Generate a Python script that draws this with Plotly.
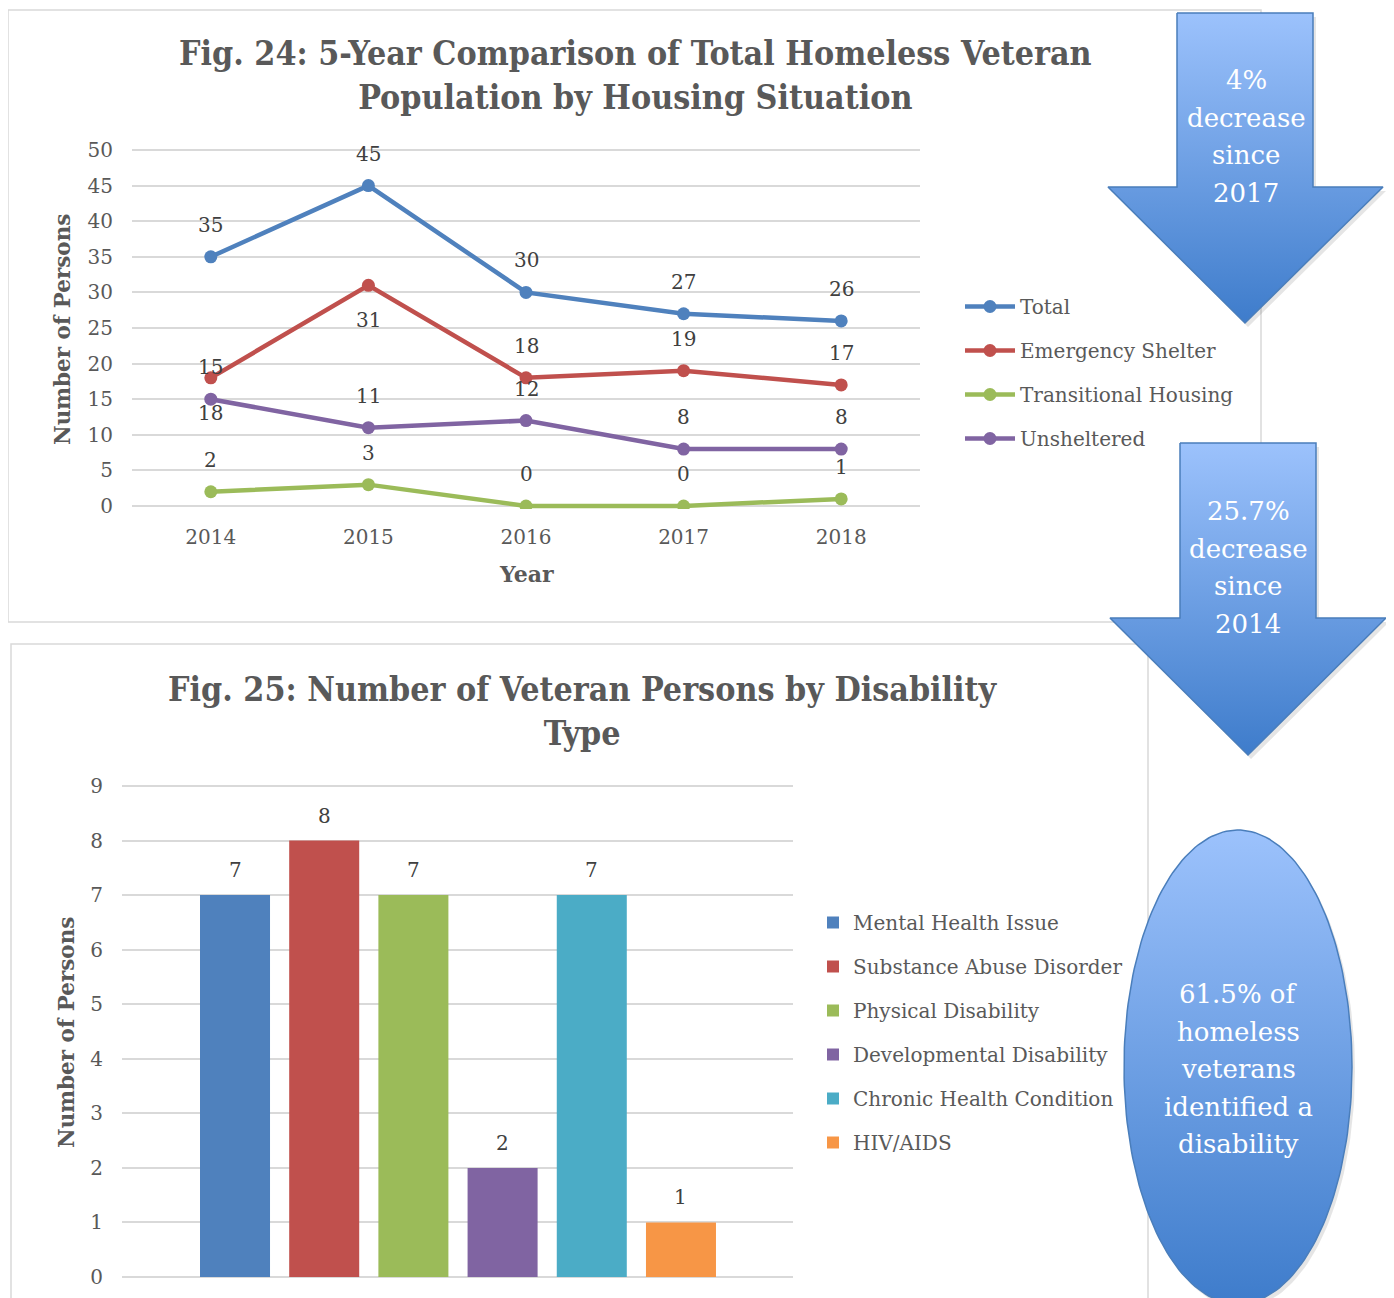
import numpy as np
import plotly.graph_objects as go

W, H = 1394, 1298
DX, DY = 8, 8  # page offset compensation

# ---------------- data ----------------
years = ["2014", "2015", "2016", "2017", "2018"]
total = [35, 45, 30, 27, 26]
emergency_shelter = [18, 31, 18, 19, 17]
transitional_housing = [2, 3, 0, 0, 1]
unsheltered = [15, 11, 12, 8, 8]

disability_types = ["Mental Health Issue", "Substance Abuse Disorder", "Physical Disability",
                    "Developmental Disability", "Chronic Health Condition", "HIV/AIDS"]
disability_counts = [7, 8, 7, 2, 7, 1]

arrow1_text = ["4%", "decrease", "since", "2017"]
arrow2_text = ["25.7%", "decrease", "since", "2014"]
ellipse_text = ["61.5% of", "homeless", "veterans", "identified a", "disability"]

# ---------------- styles ----------------
line_colors = ["#4F81BD", "#C0504D", "#9BBB59", "#8064A2"]
bar_colors = ["#4F81BD", "#C0504D", "#9BBB59", "#8064A2", "#4BACC6", "#F79646"]
SERIF = "DejaVu Serif"
COND = "DejaVu Serif Condensed"
GRID = "#D9D9D9"
TXT = "#595959"
LBL = "#404040"


def px(x):
    return (x - DX) / W


def py(y):
    return 1 - (y - DY) / H


fig = go.Figure()

# ---------------- Fig 24: lines ----------------
series = [("Total", total), ("Emergency Shelter", emergency_shelter),
          ("Transitional Housing", transitional_housing), ("Unsheltered", unsheltered)]
# label placement: True = above point, False = below
label_above = {
    "Total": [True] * 5,
    "Emergency Shelter": [False, False, True, True, True],
    "Transitional Housing": [True] * 5,
    "Unsheltered": [True] * 5,
}
annotations = []
for i, (name, vals) in enumerate(series):
    fig.add_trace(go.Scatter(
        x=years, y=vals, name=name, mode="lines+markers",
        line=dict(color=line_colors[i], width=4.5),
        marker=dict(color=line_colors[i], size=13),
        xaxis="x", yaxis="y", legend="legend", legendgroup=name,
    ))
    for j, (v, up) in enumerate(zip(vals, label_above[name])):
        annotations.append(dict(
            x=j, y=v, xref="x", yref="y", text=str(v), showarrow=False,
            xanchor="center", yanchor="middle",
            yshift=32 if up else -35, font=dict(family=SERIF, size=20, color=LBL)))

# ---------------- Fig 25: bars ----------------
for i, (cat, v) in enumerate(zip(disability_types, disability_counts)):
    fig.add_trace(go.Bar(
        x=[cat], y=[v], name=cat, marker=dict(color=bar_colors[i], line=dict(width=0)),
        xaxis="x2", yaxis="y2", legend="legend2", legendgroup=cat,
    ))
    annotations.append(dict(
        x=i, y=v, xref="x2", yref="y2", text=str(v), showarrow=False, yshift=25,
        xanchor="center", yanchor="middle",
        font=dict(family=SERIF, size=20, color=LBL)))

# ---------------- decorations (pixel overlay axes) ----------------
LIGHT = "#9CC2FC"
DARK = "#3E7CCB"
EDGE = "#4A7EBB"


def arrow(x0, x1, top, neck, hx0, hx1, tip):
    cx = (x0 + x1) / 2
    xs = [x0, x1, x1, hx1, cx, hx0, x0, x0]
    ys = [top, top, neck, neck, tip, neck, neck, top]
    return xs, ys


def add_shape_trace(xs, ys, top, bottom):
    fig.add_trace(go.Scatter(
        x=[v + 3 for v in xs], y=[v + 4 for v in ys], mode="lines", fill="toself",
        fillcolor="rgba(0,0,0,0.10)", line=dict(width=0), hoverinfo="skip",
        showlegend=False, xaxis="x3", yaxis="y3"))
    fig.add_trace(go.Scatter(
        x=xs, y=ys, mode="lines", fill="toself",
        fillgradient=dict(type="vertical", start=top, stop=bottom,
                          colorscale=[[0, LIGHT], [1, DARK]]),
        line=dict(color=EDGE, width=1.5), hoverinfo="skip",
        showlegend=False, xaxis="x3", yaxis="y3"))


ax, ay = arrow(1177, 1313, 13, 187, 1108, 1383, 323)
add_shape_trace(ax, ay, 13, 323)
ax, ay = arrow(1180, 1316, 443, 618, 1110, 1386, 755)
add_shape_trace(ax, ay, 443, 755)
t = np.linspace(0, 2 * np.pi, 200)
ex = list(1238 + 114 * np.cos(t))
ey = list(1067 + 237 * np.sin(t))
add_shape_trace(ex, ey, 830, 1304)

for lines, cx, y0 in [(arrow1_text, 1246, 80), (arrow2_text, 1248, 511), (ellipse_text, 1238, 994)]:
    for k, s in enumerate(lines):
        annotations.append(dict(
            x=cx, y=y0 + k * 37.5, xref="x3", yref="y3", text=s, showarrow=False,
            xanchor="center", yanchor="middle",
            font=dict(family=SERIF, size=26, color="white")))

# ---------------- titles ----------------
annotations += [
    dict(x=px(635), y=py(75), xref="paper", yref="paper", showarrow=False,
         xanchor="center", yanchor="middle",
         text="Fig. 24: 5-Year Comparison of Total Homeless Veteran<br>Population by Housing Situation",
         font=dict(family=COND, size=33.7, color=TXT, weight="bold")),
    dict(x=px(583), y=py(711), xref="paper", yref="paper", showarrow=False,
         xanchor="center", yanchor="middle",
         text="Fig. 25: Number of Veteran Persons by Disability<br>Type",
         font=dict(family=COND, size=33.7, color=TXT, weight="bold")),
    dict(x=px(62), y=py(329), xref="paper", yref="paper", showarrow=False, textangle=-90,
         xanchor="center", yanchor="middle",
         text="Number of Persons", font=dict(family=SERIF, size=21.5, color=TXT, weight="bold")),
    dict(x=px(66), y=py(1032), xref="paper", yref="paper", showarrow=False, textangle=-90,
         xanchor="center", yanchor="middle",
         text="Number of Persons", font=dict(family=SERIF, size=21.5, color=TXT, weight="bold")),
    dict(x=px(526), y=py(574), xref="paper", yref="paper", showarrow=False,
         xanchor="center", yanchor="middle",
         text="Year", font=dict(family=SERIF, size=22, color=TXT, weight="bold")),
]

shapes = [
    dict(type="rect", xref="paper", yref="paper", layer="below",
         x0=px(8), x1=px(1261), y0=py(10), y1=py(622), line=dict(color=GRID, width=1.5)),
    dict(type="rect", xref="paper", yref="paper", layer="below",
         x0=px(11), x1=px(1148), y0=py(644), y1=py(1320), line=dict(color=GRID, width=1.5)),
]

# small padding so the gridlines at the range ends are drawn
PAD = 3
k1 = (506 - 150) / 50.0
k2 = (1277 - 786) / 9.0

tickfont = dict(family=SERIF, size=20, color=TXT)
fig.update_layout(
    width=W, height=H, margin=dict(l=0, r=0, t=0, b=0, autoexpand=False),
    paper_bgcolor="white", plot_bgcolor="rgba(0,0,0,0)",
    barmode="overlay", bargap=0.215,
    annotations=annotations, shapes=shapes,
    xaxis=dict(domain=[px(132), px(920)], type="category", range=[-0.5, 4.5],
               showgrid=False, showline=False, zeroline=False, ticks="",
               tickfont=tickfont, ticklabelstandoff=14, anchor="y"),
    yaxis=dict(domain=[py(506 + PAD), py(150 - PAD)], range=[-PAD / k1, 50 + PAD / k1],
               tickvals=list(range(0, 51, 5)), showgrid=True,
               gridcolor=GRID, gridwidth=1.5, zeroline=False, showline=False, ticks="",
               tickfont=tickfont, ticklabelstandoff=18, anchor="x"),
    xaxis2=dict(domain=[px(122), px(793)], type="category", range=[-1.267, 6.256],
                showgrid=False, showline=False, zeroline=False, ticks="",
                showticklabels=False, anchor="y2"),
    yaxis2=dict(domain=[py(1277 + PAD), py(786 - PAD)], range=[-PAD / k2, 9 + PAD / k2],
                tickvals=list(range(0, 10)), showgrid=True,
                gridcolor=GRID, gridwidth=1.5, zeroline=False, showline=False, ticks="",
                tickfont=tickfont, ticklabelstandoff=18, anchor="x2"),
    xaxis3=dict(domain=[0, 1], range=[DX, W + DX], visible=False, anchor="y3", fixedrange=True),
    yaxis3=dict(domain=[0, 1], range=[H + DY, DY], visible=False, anchor="x3", fixedrange=True),
    legend=dict(x=px(960), y=py(287), xanchor="left", yanchor="top",
                font=dict(family=SERIF, size=20, color=TXT), tracegroupgap=15,
                bgcolor="rgba(0,0,0,0)", itemwidth=50),
    legend2=dict(x=px(813), y=py(903), xanchor="left", yanchor="top",
                 font=dict(family=SERIF, size=20, color=TXT), tracegroupgap=15,
                 bgcolor="rgba(0,0,0,0)"),
    showlegend=True,
)

fig.write_html("out.html")
